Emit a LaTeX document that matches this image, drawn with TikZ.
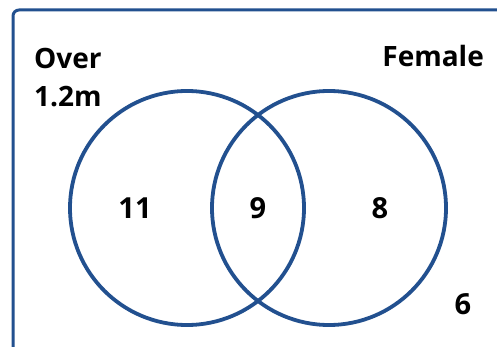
\documentclass[tikz,border=0pt]{standalone}
\usepackage{fontspec}
\setmainfont{Open Sans}
\usepackage{tikz}
\usetikzlibrary{positioning}

\definecolor{vennblue}{HTML}{22508F}

\begin{document}
\begin{tikzpicture}[
        x=1pt, y=-1pt,
        set/.style={circle, draw=vennblue, line width=3.8pt, minimum size=234pt, inner sep=0pt},
        label/.style={font=\fontsize{28}{30}\selectfont\bfseries, inner sep=0pt},
        count/.style={font=\fontsize{29}{30}\selectfont\bfseries, inner sep=0pt}
    ]
        \useasboundingbox (0,0) rectangle (497,347);
        \begin{scope}
            \clip (0,0) rectangle (497,347);
            \draw[vennblue, line width=3pt, rounded corners=6pt] (13,10) rectangle (520,370);
        \end{scope}
        \node[set] (over) at (187,208) {};
        \node[set] (female) at (329,208) {};
        \node[label, anchor=west] (overlabel) at (34,58) {Over};
        \node[label, anchor=west] (heightlabel) at (34,97) {1.2m};
        \node[label, anchor=east] (femalelabel) at (484,56) {Female};
        \node[count] (onlyover) at (135,208) {11};
        \node[count] (both) at (258,208) {9};
        \node[count] (onlyfemale) at (380,208) {8};
        \node[count] (neither) at (463,304) {6};
    \end{tikzpicture}
\end{document}
